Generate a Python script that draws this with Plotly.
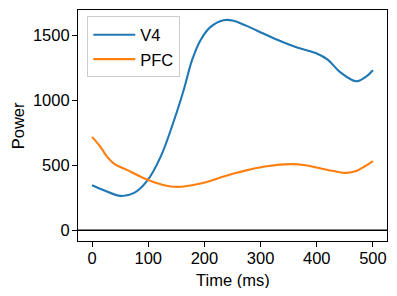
import plotly.graph_objects as go

# Data
v4_time = [0, 21, 51, 75, 98, 122, 146, 163, 178, 193, 211, 234, 250, 275, 305, 335, 365, 400, 420, 441, 470, 487, 500]
v4_power = [346, 308, 264, 287, 379, 564, 846, 1077, 1308, 1462, 1564, 1615, 1613, 1572, 1513, 1455, 1405, 1359, 1310, 1218, 1146, 1180, 1231]

pfc_time = [0, 15, 27, 39, 63, 98, 125, 152, 193, 225, 252, 280, 311, 353, 380, 400, 430, 453, 470, 485, 500]
pfc_power = [718, 641, 564, 513, 462, 390, 350, 333, 359, 400, 436, 466, 492, 508, 500, 482, 455, 441, 455, 490, 531]

baseline = 0
x_ticks = [0, 100, 200, 300, 400, 500]
y_ticks = [0, 500, 1000, 1500]

FONT = "Liberation Sans, Arial, Helvetica, sans-serif"
FS = 16.5

fig = go.Figure()
fig.add_trace(go.Scatter(x=v4_time, y=v4_power, mode="lines", name="V4",
                         line=dict(color="#1f77b4", width=2.1, shape="spline", smoothing=1.0)))
fig.add_trace(go.Scatter(x=pfc_time, y=pfc_power, mode="lines", name="PFC",
                         line=dict(color="#ff7f0e", width=2.1, shape="spline", smoothing=1.0)))

fig.add_shape(type="line", xref="paper", x0=0, x1=1, yref="y", y0=baseline, y1=baseline,
              line=dict(color="black", width=1.5), layer="above")

axis_common = dict(showgrid=False, zeroline=False, showline=True, linecolor="black", linewidth=1.1,
                   mirror=True, ticks="outside", ticklen=5, tickwidth=1.1, tickcolor="black",
                   automargin=False,
                   tickfont=dict(family=FONT, size=FS, color="black"))

fig.update_xaxes(range=[-25, 525], tickvals=x_ticks, ticklabelstandoff=-3, **axis_common)
fig.update_yaxes(range=[-83, 1694], tickvals=y_ticks, ticklabelstandoff=-1, **axis_common)

fig.add_annotation(text="Time (ms)", xref="paper", yref="paper", x=0.5, y=-0.168,
                   xanchor="center", yanchor="middle", showarrow=False,
                   font=dict(family=FONT, size=FS, color="black"))
fig.add_annotation(text="Power", xref="paper", yref="paper", x=-0.195, y=0.5,
                   xanchor="center", yanchor="middle", showarrow=False, textangle=-90,
                   font=dict(family=FONT, size=FS, color="black"))

# the page body has an 8px margin, so the figure is sized/offset to compensate
fig.update_layout(
    width=381, height=280,
    margin=dict(l=70, r=2, t=2, b=47, autoexpand=False),
    plot_bgcolor="white", paper_bgcolor="white",
    font=dict(family=FONT, size=FS, color="black"),
    legend=dict(x=0.03, y=0.972, xanchor="left", yanchor="top",
                bgcolor="rgba(255,255,255,0.8)", bordercolor="#cccccc", borderwidth=1,
                font=dict(family=FONT, size=FS, color="black"),
                tracegroupgap=0, itemwidth=42),
    showlegend=True,
)

fig.write_html("out.html")
